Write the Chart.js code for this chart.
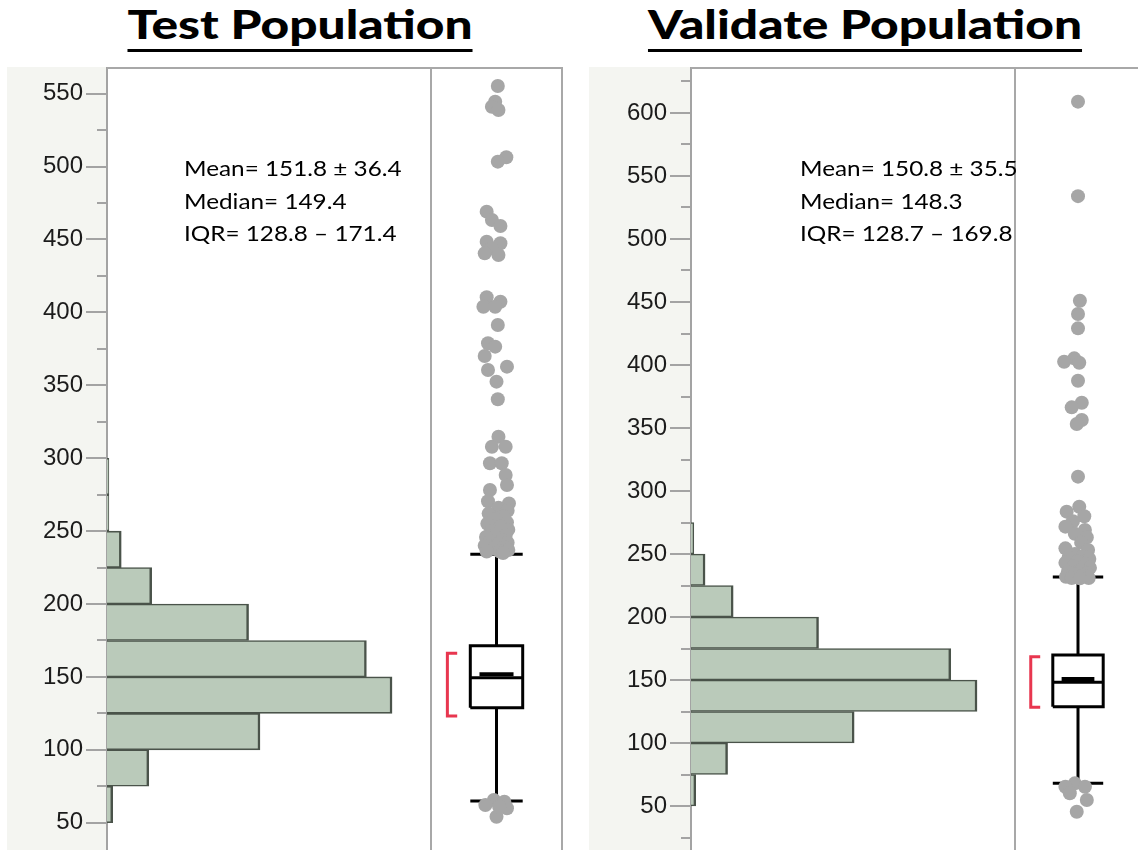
<!DOCTYPE html>
<html>
<head>
<meta charset="utf-8">
<script src="https://cdn.jsdelivr.net/npm/chart.js@4.4.0/dist/chart.umd.min.js"></script>
<style>
  body { margin: 0; width: 1138px; height: 850px; overflow: hidden; background: #fff; position: relative; font-family: Lato, sans-serif; }
  .title { position: absolute; top: 4px; font-size: 40px; font-weight: 900; line-height: 40px; color: #000;
           text-decoration: underline; text-decoration-thickness: 3px; text-underline-offset: 10px;
           white-space: nowrap; transform: translateX(-50%) scaleX(1.24); }
  .axisbg { position: absolute; top: 67px; height: 783px; background: #f4f5f1; }
  .line { position: absolute; background: #a8a8a8; z-index: 2; }
  canvas { position: absolute; top: 67px; z-index: 1; }
  .stats { position: absolute; top: 152px; font-size: 21.5px; line-height: 32.5px; color: #000; white-space: nowrap; z-index: 3;
           transform-origin: 0 0; transform: scaleX(1.13); }
</style>
</head>
<body>
<div class="title" style="left:300px">Test Population</div>
<div class="title" style="left:865px">Validate Population</div>

<div class="axisbg" style="left:7px;width:100px"></div>
<canvas id="histTest" width="424" height="783" style="left:7px"></canvas>
<canvas id="boxTest" width="131" height="783" style="left:431px"></canvas>
<div class="line" style="left:107px;top:67px;width:456px;height:2px"></div>
<div class="line" style="left:430px;top:67px;width:2px;height:783px"></div>
<div class="line" style="left:561px;top:67px;width:2px;height:783px"></div>
<div class="stats" style="left:184px">Mean= 151.8 ± 36.4<br>Median= 149.4<br>IQR= 128.8 – 171.4</div>

<div class="axisbg" style="left:589px;width:102px"></div>
<canvas id="histValidate" width="426" height="783" style="left:589px"></canvas>
<canvas id="boxValidate" width="126" height="783" style="left:1015px"></canvas>
<div class="line" style="left:691px;top:67px;width:447px;height:2px"></div>
<div class="line" style="left:1014px;top:67px;width:2px;height:783px"></div>
<div class="stats" style="left:800px">Mean= 150.8 ± 35.5<br>Median= 148.3<br>IQR= 128.7 – 169.8</div>

<script>
// histogram bins (lower edges, width 25) and share of samples per bin, in %
const binStarts = [50, 75, 100, 125, 150, 175, 200, 225, 250, 275];
const binWidth = 25;
const testPercent = [0.6, 4.4, 16.1, 30.0, 27.3, 14.9, 4.7, 1.5, 0.2, 0.2];
const validatePercent = [0.5, 3.9, 17.4, 30.5, 27.7, 13.6, 4.5, 1.5, 0.3];

// y axis ranges and tick values
const testRange = [31.3, 568.3];
const validateRange = [15.1, 636.5];
const testTicks = [50, 75, 100, 125, 150, 175, 200, 225, 250, 275, 300, 325, 350, 375, 400, 425, 450, 475, 500, 525, 550];
const validateTicks = [25, 50, 75, 100, 125, 150, 175, 200, 225, 250, 275, 300, 325, 350, 375, 400, 425, 450, 475, 500, 525, 550, 575, 600, 625];

// box plot: lower whisker, Q1, median, Q3, upper whisker
const testBox = [64.9, 128.8, 149.4, 171.4, 234.1];
const validateBox = [68.0, 128.7, 148.3, 169.8, 231.7];
const testMean = 151.8;
const validateMean = 150.8;
const testShortestHalf = [123.2, 166.2];
const validateShortestHalf = [128.3, 168.5];

// outlier values and their horizontal jitter
const testOutliers = [555.3, 544.5, 541.0, 538.8, 506.4, 503.4, 469.1, 463.4, 459.3, 448.5, 447.4, 444.0, 440.5, 439.4,
  410.4, 407.3, 403.9, 403.9, 391.4, 378.8, 376.5, 370.1, 362.8, 360.5, 352.5, 340.4, 314.7, 307.9, 307.9,
  296.5, 296.5, 288.5, 281.6, 278.2, 270.5, 269.0,
  266, 264, 262, 260, 258, 256, 255, 253, 251, 250, 248, 247, 246, 244, 243, 242, 241, 240, 239, 238, 237, 236, 236, 235,
  65.6, 64.4, 62.1, 59.9, 54.1, 61.0];
const testJitter = [0.02, -0.02, -0.07, 0.03, 0.15, 0.02, -0.15, -0.07, 0.06, -0.15, 0.06, -0.07, -0.18, 0.03,
  -0.15, 0.06, -0.20, -0.02, 0.02, -0.13, -0.02, -0.18, 0.16, -0.13, 0.00, 0.02, 0.03, -0.07, 0.14,
  -0.10, 0.08, 0.14, 0.16, -0.10, -0.13, 0.19,
  0.03, 0.17, -0.12, 0.10, -0.02, 0.16, -0.14, 0.06, 0.18, -0.08, 0.00, 0.14, -0.16, 0.08, -0.10, 0.17, 0.02, -0.18, 0.12, -0.05, 0.18, 0.05, -0.15, 0.10,
  -0.04, 0.12, -0.17, 0.16, 0.00, 0.04];
const validateOutliers = [609, 534, 451, 440.5, 429.1, 405.3, 402.6, 401.8, 387.5, 370.1, 366.4, 356.3, 353.2,
  311.4, 287.5, 283.6, 280, 276, 271.7, 269, 266, 263.2, 259, 254.5, 253.2,
  250, 248, 247, 246, 244, 243, 242, 240, 239, 237, 236, 235, 234, 233, 232, 231, 231, 230.7,
  68.0, 65.3, 65.3, 60.1, 54.8, 45.5];
const validateJitter = [0.00, 0.00, 0.03, 0.00, 0.00, -0.06, -0.22, 0.02, 0.00, 0.06, -0.10, 0.06, -0.02,
  0.00, 0.02, -0.18, 0.10, -0.08, -0.20, 0.11, -0.05, 0.14, 0.05, -0.20, 0.16,
  -0.05, 0.08, -0.15, 0.18, 0.00, -0.20, 0.12, -0.08, 0.19, 0.04, -0.16, 0.14, -0.04, 0.08, -0.19, 0.17, -0.10, 0.03,
  -0.05, -0.20, 0.11, -0.13, 0.14, -0.02];

const axisGrey = '#a3a3a3';

function drawHistogram(id, percents, range, ticks, xMax, axisWidth) {
    new Chart(document.getElementById(id), {
        type: 'bar',
        data: {
            datasets: [{
                data: percents.map((p, i) => ({ x: p, y: binStarts[i] + binWidth / 2 })),
                backgroundColor: '#bacaba',
                borderColor: '#4a534a',
                borderWidth: { top: 1.6, bottom: 1.6, right: 2.5, left: 0 },
                borderSkipped: 'start',
                barPercentage: 1,
                categoryPercentage: 1
            }]
        },
        options: {
            indexAxis: 'y',
            responsive: false,
            animation: false,
            layout: { autoPadding: false },
            plugins: { legend: { display: false }, tooltip: { enabled: false } },
            scales: {
                x: { display: false, min: 0, max: xMax },
                y: {
                    type: 'linear',
                    min: range[0],
                    max: range[1],
                    offset: false,
                    afterBuildTicks: scale => { scale.ticks = ticks.map(v => ({ value: v })); },
                    afterFit: scale => { scale.width = axisWidth; scale.paddingTop = 0; scale.paddingBottom = 0; },
                    ticks: {
                        autoSkip: false,
                        padding: 3,
                        color: '#1b1b1b',
                        font: { family: 'Liberation Sans', size: 24 },
                        callback: v => (v % 50 === 0 ? v : '')
                    },
                    grid: {
                        offset: false,
                        drawOnChartArea: false,
                        tickLength: 21,
                        color: axisGrey,
                        lineWidth: 2,
                        tickBorderDash: ctx => (ctx.tick && ctx.tick.value % 50 !== 0 ? [0, 11, 30] : [])
                    },
                    border: { color: axisGrey, width: 2 }
                }
            }
        }
    });
}

function drawBoxPlot(id, box, mean, shortestHalf, outliers, jitter, range) {
    const [lo, q1, med, q3, hi] = box;
    const w = 0.4;
    const segment = (points, color, width) => ({
        data: points, showLine: true, borderColor: color, borderWidth: width,
        pointRadius: 0, fill: false, borderJoinStyle: 'miter'
    });
    new Chart(document.getElementById(id), {
        type: 'scatter',
        data: {
            datasets: [
                {
                    data: outliers.map((v, i) => ({ x: jitter[i], y: v })),
                    pointRadius: 7,
                    backgroundColor: '#a6a6a6',
                    borderWidth: 0
                },
                segment([{ x: -w, y: q1 }, { x: w, y: q1 }, { x: w, y: q3 }, { x: -w, y: q3 }, { x: -w, y: q1 }], '#000', 3),
                segment([{ x: -w, y: med }, { x: w, y: med }], '#000', 3),
                segment([{ x: -0.26, y: mean }, { x: 0.26, y: mean }], '#000', 4),
                segment([{ x: 0, y: q3 }, { x: 0, y: hi }], '#000', 3),
                segment([{ x: 0, y: q1 }, { x: 0, y: lo }], '#000', 3),
                segment([{ x: -w, y: hi }, { x: w, y: hi }], '#000', 3),
                segment([{ x: -w, y: lo }, { x: w, y: lo }], '#000', 3),
                segment([{ x: -0.6, y: shortestHalf[1] }, { x: -0.75, y: shortestHalf[1] },
                         { x: -0.75, y: shortestHalf[0] }, { x: -0.6, y: shortestHalf[0] }], '#e8364f', 3)
            ]
        },
        options: {
            responsive: false,
            animation: false,
            layout: { autoPadding: false },
            plugins: { legend: { display: false }, tooltip: { enabled: false } },
            scales: {
                x: { display: false, min: -1, max: 1 },
                y: { display: false, min: range[0], max: range[1] }
            }
        }
    });
}

drawHistogram('histTest', testPercent, testRange, testTicks, 34.1, 100);
drawBoxPlot('boxTest', testBox, testMean, testShortestHalf, testOutliers, testJitter, testRange);
drawHistogram('histValidate', validatePercent, validateRange, validateTicks, 34.55, 102);
drawBoxPlot('boxValidate', validateBox, validateMean, validateShortestHalf, validateOutliers, validateJitter, validateRange);
</script>
</body>
</html>
